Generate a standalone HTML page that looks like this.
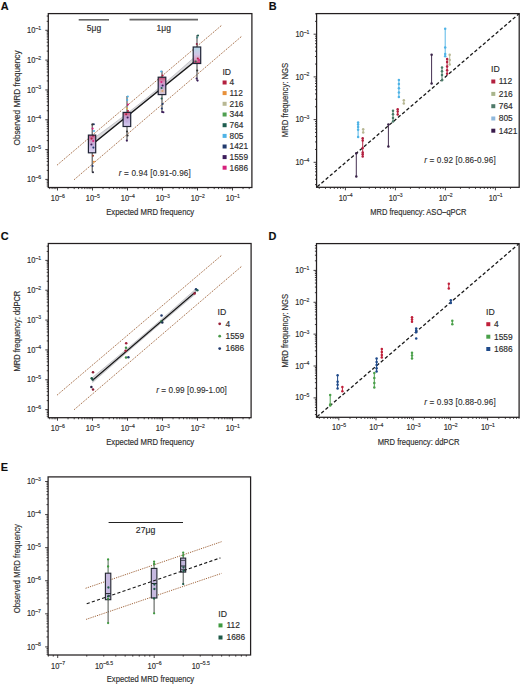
<!DOCTYPE html><html><head><meta charset="utf-8"><style>html,body{margin:0;padding:0;background:#fff;}svg{display:block;}text{font-family:"Liberation Sans",sans-serif;stroke:#2b2b2b;stroke-width:0.15px;}</style></head><body>
<svg width="520" height="685" viewBox="0 0 520 685">
<rect width="520" height="685" fill="#fff"/>
<text transform="translate(0.8 10.3) scale(0.95 1)" font-size="11.5" font-weight="bold" fill="#0d0d0d">A</text>
<line x1="57" y1="165.2" x2="222" y2="25" stroke="#9a5c30" stroke-width="0.95" stroke-dasharray="1.2 1.1" stroke-linecap="butt"/>
<line x1="74" y1="179.8" x2="242" y2="36" stroke="#9a5c30" stroke-width="0.95" stroke-dasharray="1.2 1.1" stroke-linecap="butt"/>
<line x1="78.7" y1="19.8" x2="109" y2="19.8" stroke="#666" stroke-width="1.6" stroke-linecap="butt"/>
<line x1="129.5" y1="19.6" x2="198" y2="19.6" stroke="#666" stroke-width="1.6" stroke-linecap="butt"/>
<text x="94" y="30.7" text-anchor="middle" font-size="8.5" fill="#2b2b2b">5μg</text>
<text x="163.8" y="30.7" text-anchor="middle" font-size="8.5" fill="#2b2b2b">1μg</text>
<polygon points="95.8,136.7 100.7,133.18 105.6,129.61 110.5,126 115.4,122.34 120.3,118.64 125.2,114.89 130.1,111.1 135,107.26 139.9,103.38 144.8,99.45 149.7,95.48 154.6,91.46 159.5,87.4 164.4,83.29 169.3,79.14 174.2,74.94 179.1,70.7 184,66.41 188.9,62.08 193.8,57.7 193.8,62.9 188.9,66.86 184,70.82 179.1,74.78 174.2,78.74 169.3,82.7 164.4,86.66 159.5,90.62 154.6,94.58 149.7,98.54 144.8,102.5 139.9,106.46 135,110.42 130.1,114.38 125.2,118.34 120.3,122.3 115.4,126.26 110.5,130.22 105.6,134.18 100.7,138.14 95.8,142.1" fill="#dadadd" stroke="#a5a5aa" stroke-width="0.5"/>
<line x1="95.8" y1="141.5" x2="193.8" y2="62.3" stroke="#151515" stroke-width="1.35" stroke-linecap="butt"/>
<defs>
<linearGradient id="gA5" x1="0" y1="0" x2="0" y2="1"><stop offset="0" stop-color="#c85a86"/><stop offset="0.35" stop-color="#c9a0c8"/><stop offset="0.6" stop-color="#c6b6e2"/><stop offset="1" stop-color="#ddd4f0"/></linearGradient>
<linearGradient id="gA4" x1="0" y1="0" x2="0" y2="1"><stop offset="0" stop-color="#cc5578"/><stop offset="0.3" stop-color="#c59ac8"/><stop offset="0.6" stop-color="#c4b2e2"/><stop offset="1" stop-color="#d6cdef"/></linearGradient>
<linearGradient id="gA3" x1="0" y1="0" x2="0" y2="1"><stop offset="0" stop-color="#c85070"/><stop offset="0.3" stop-color="#d496c2"/><stop offset="0.55" stop-color="#bca6d8"/><stop offset="0.8" stop-color="#d8c2c0"/><stop offset="1" stop-color="#cfc3e2"/></linearGradient>
<linearGradient id="gA2" x1="0" y1="0" x2="0" y2="1"><stop offset="0" stop-color="#b4dbe9"/><stop offset="0.45" stop-color="#d2c6e6"/><stop offset="0.75" stop-color="#d9a0c4"/><stop offset="0.92" stop-color="#cc4a78"/><stop offset="1" stop-color="#c05078"/></linearGradient>
</defs>
<line x1="92.2" y1="124" x2="92.2" y2="172.5" stroke="#3a3a3a" stroke-width="1.0"/>
<rect x="88.4" y="135.1" width="7.3" height="17.7" fill="url(#gA5)"/>
<line x1="127" y1="96" x2="127" y2="141.5" stroke="#3a3a3a" stroke-width="1.0"/>
<rect x="123.1" y="112.4" width="7.6" height="14.1" fill="url(#gA4)"/>
<line x1="162" y1="70.8" x2="162" y2="112.3" stroke="#3a3a3a" stroke-width="1.0"/>
<rect x="158.2" y="77.2" width="7.6" height="17.4" fill="url(#gA3)"/>
<line x1="197" y1="35" x2="197" y2="81" stroke="#3a3a3a" stroke-width="1.0"/>
<rect x="193.2" y="47" width="7.5" height="16.5" fill="url(#gA2)"/>
<circle cx="93.8" cy="124.2" r="1.05" fill="#223b6e"/>
<circle cx="92.4" cy="124.4" r="1.05" fill="#333"/>
<circle cx="92.6" cy="128.6" r="1.05" fill="#d6217c"/>
<circle cx="94" cy="131" r="1.05" fill="#4fb3e6"/>
<circle cx="93" cy="135.8" r="1.05" fill="#b3203f"/>
<circle cx="91.6" cy="138.6" r="1.05" fill="#b3203f"/>
<circle cx="93.2" cy="141" r="1.05" fill="#d6217c"/>
<circle cx="91.4" cy="144.5" r="1.05" fill="#3c1d5b"/>
<circle cx="93.4" cy="147.6" r="1.05" fill="#223b6e"/>
<circle cx="93" cy="155.7" r="1.05" fill="#9a3a2a"/>
<circle cx="93.9" cy="161.8" r="1.05" fill="#e8913a"/>
<circle cx="92.6" cy="166" r="1.05" fill="#223b6e"/>
<circle cx="93" cy="172.3" r="1.05" fill="#2a2a3a"/>
<circle cx="127.8" cy="96.5" r="1.05" fill="#4fb3e6"/>
<circle cx="127.2" cy="100" r="1.05" fill="#4fb3e6"/>
<circle cx="128" cy="104.5" r="1.05" fill="#d6217c"/>
<circle cx="127" cy="108.5" r="1.05" fill="#e0b050"/>
<circle cx="128" cy="111" r="1.05" fill="#b3203f"/>
<circle cx="126.2" cy="114.2" r="1.05" fill="#b3203f"/>
<circle cx="127.6" cy="117.5" r="1.05" fill="#3c1d5b"/>
<circle cx="126.8" cy="121.5" r="1.05" fill="#c0a8d8"/>
<circle cx="127" cy="131.5" r="1.05" fill="#333"/>
<circle cx="127.6" cy="135.5" r="1.05" fill="#333"/>
<circle cx="126.8" cy="140.5" r="1.05" fill="#3c1d5b"/>
<circle cx="161.2" cy="71.5" r="1.05" fill="#4fb3e6"/>
<circle cx="162.6" cy="75.5" r="1.05" fill="#b3203f"/>
<circle cx="161.4" cy="82" r="1.05" fill="#d6217c"/>
<circle cx="162.6" cy="85.5" r="1.05" fill="#3c1d5b"/>
<circle cx="161.6" cy="88" r="1.05" fill="#1f5e50"/>
<circle cx="162.4" cy="91" r="1.05" fill="#d8a070"/>
<circle cx="161.6" cy="98.5" r="1.05" fill="#1f5e50"/>
<circle cx="162.6" cy="104" r="1.05" fill="#223b6e"/>
<circle cx="161.8" cy="108.5" r="1.05" fill="#223b6e"/>
<circle cx="162.2" cy="112" r="1.05" fill="#3c1d5b"/>
<circle cx="163.4" cy="112.2" r="1.05" fill="#3c1d5b"/>
<circle cx="198" cy="35.5" r="1.05" fill="#1f5e50"/>
<circle cx="197.2" cy="37.5" r="1.05" fill="#4a8a8a"/>
<circle cx="196.8" cy="44" r="1.05" fill="#8a2040"/>
<circle cx="195.6" cy="61.5" r="1.05" fill="#2a6a4a"/>
<circle cx="197.8" cy="58.5" r="1.05" fill="#b3203f"/>
<circle cx="199" cy="60" r="1.05" fill="#d6217c"/>
<circle cx="197.2" cy="70.5" r="1.05" fill="#333"/>
<circle cx="196.6" cy="78.5" r="1.05" fill="#3c1d5b"/>
<circle cx="197.6" cy="80.6" r="1.05" fill="#3c1d5b"/>
<rect x="88.4" y="135.1" width="7.3" height="17.7" fill="none" stroke="#1f2436" stroke-width="1.2"/>
<rect x="123.1" y="112.4" width="7.6" height="14.1" fill="none" stroke="#1f2436" stroke-width="1.2"/>
<rect x="158.2" y="77.2" width="7.6" height="17.4" fill="none" stroke="#1f2436" stroke-width="1.2"/>
<rect x="193.2" y="47" width="7.5" height="16.5" fill="none" stroke="#1f2436" stroke-width="1.2"/>
<path d="M46.7 186.02H48.3M46.7 184.02H48.3M46.7 182.29H48.3M46.7 180.76H48.3M45.3 179.4H48.3M46.7 170.42H48.3M46.7 165.17H48.3M46.7 161.45H48.3M46.7 158.56H48.3M46.7 156.2H48.3M46.7 154.2H48.3M46.7 152.47H48.3M46.7 150.94H48.3M45.3 149.58H48.3M46.7 140.6H48.3M46.7 135.35H48.3M46.7 131.63H48.3M46.7 128.74H48.3M46.7 126.38H48.3M46.7 124.38H48.3M46.7 122.65H48.3M46.7 121.12H48.3M45.3 119.76H48.3M46.7 110.78H48.3M46.7 105.53H48.3M46.7 101.81H48.3M46.7 98.92H48.3M46.7 96.56H48.3M46.7 94.56H48.3M46.7 92.83H48.3M46.7 91.3H48.3M45.3 89.94H48.3M46.7 80.96H48.3M46.7 75.71H48.3M46.7 71.99H48.3M46.7 69.1H48.3M46.7 66.74H48.3M46.7 64.74H48.3M46.7 63.01H48.3M46.7 61.48H48.3M45.3 60.12H48.3M46.7 51.14H48.3M46.7 45.89H48.3M46.7 42.17H48.3M46.7 39.28H48.3M46.7 36.92H48.3M46.7 34.92H48.3M46.7 33.19H48.3M46.7 31.66H48.3M45.3 30.3H48.3M46.7 21.32H48.3M46.7 16.07H48.3M49.74 187.5V189.1M52.08 187.5V189.1M54.11 187.5V189.1M55.9 187.5V189.1M57.5 187.5V190.5M68.04 187.5V189.1M74.2 187.5V189.1M78.57 187.5V189.1M81.96 187.5V189.1M84.74 187.5V189.1M87.08 187.5V189.1M89.11 187.5V189.1M90.9 187.5V189.1M92.5 187.5V190.5M103.04 187.5V189.1M109.2 187.5V189.1M113.57 187.5V189.1M116.96 187.5V189.1M119.74 187.5V189.1M122.08 187.5V189.1M124.11 187.5V189.1M125.9 187.5V189.1M127.5 187.5V190.5M138.04 187.5V189.1M144.2 187.5V189.1M148.57 187.5V189.1M151.96 187.5V189.1M154.74 187.5V189.1M157.08 187.5V189.1M159.11 187.5V189.1M160.9 187.5V189.1M162.5 187.5V190.5M173.04 187.5V189.1M179.2 187.5V189.1M183.57 187.5V189.1M186.96 187.5V189.1M189.74 187.5V189.1M192.08 187.5V189.1M194.11 187.5V189.1M195.9 187.5V189.1M197.5 187.5V190.5M208.04 187.5V189.1M214.2 187.5V189.1M218.57 187.5V189.1M221.96 187.5V189.1M224.74 187.5V189.1M227.08 187.5V189.1M229.11 187.5V189.1M230.9 187.5V189.1M232.5 187.5V190.5M243.04 187.5V189.1M249.2 187.5V189.1" stroke="#231f20" stroke-width="0.85" fill="none"/>
<text transform="translate(41.1 32.9) scale(0.88 1)" text-anchor="end" font-size="8.5" fill="#2b2b2b">10<tspan dy="-3.2" font-size="5.8">–1</tspan></text>
<text transform="translate(41.1 62.72) scale(0.88 1)" text-anchor="end" font-size="8.5" fill="#2b2b2b">10<tspan dy="-3.2" font-size="5.8">–2</tspan></text>
<text transform="translate(41.1 92.54) scale(0.88 1)" text-anchor="end" font-size="8.5" fill="#2b2b2b">10<tspan dy="-3.2" font-size="5.8">–3</tspan></text>
<text transform="translate(41.1 122.36) scale(0.88 1)" text-anchor="end" font-size="8.5" fill="#2b2b2b">10<tspan dy="-3.2" font-size="5.8">–4</tspan></text>
<text transform="translate(41.1 152.18) scale(0.88 1)" text-anchor="end" font-size="8.5" fill="#2b2b2b">10<tspan dy="-3.2" font-size="5.8">–5</tspan></text>
<text transform="translate(41.1 182) scale(0.88 1)" text-anchor="end" font-size="8.5" fill="#2b2b2b">10<tspan dy="-3.2" font-size="5.8">–6</tspan></text>
<text transform="translate(57.8 200.7) scale(0.88 1)" text-anchor="middle" font-size="8.5" fill="#2b2b2b">10<tspan dy="-3.2" font-size="5.8">–6</tspan></text>
<text transform="translate(92.8 200.7) scale(0.88 1)" text-anchor="middle" font-size="8.5" fill="#2b2b2b">10<tspan dy="-3.2" font-size="5.8">–5</tspan></text>
<text transform="translate(127.8 200.7) scale(0.88 1)" text-anchor="middle" font-size="8.5" fill="#2b2b2b">10<tspan dy="-3.2" font-size="5.8">–4</tspan></text>
<text transform="translate(162.8 200.7) scale(0.88 1)" text-anchor="middle" font-size="8.5" fill="#2b2b2b">10<tspan dy="-3.2" font-size="5.8">–3</tspan></text>
<text transform="translate(197.8 200.7) scale(0.88 1)" text-anchor="middle" font-size="8.5" fill="#2b2b2b">10<tspan dy="-3.2" font-size="5.8">–2</tspan></text>
<text transform="translate(232.8 200.7) scale(0.88 1)" text-anchor="middle" font-size="8.5" fill="#2b2b2b">10<tspan dy="-3.2" font-size="5.8">–1</tspan></text>
<rect x="48.3" y="13.6" width="203.6" height="173.9" fill="none" stroke="#231f20" stroke-width="1.25"/>
<text transform="translate(19.8 98) rotate(-90)" x="0" y="0" text-anchor="middle" font-size="9" fill="#2b2b2b" textLength="95" lengthAdjust="spacingAndGlyphs">Observed MRD frequency</text>
<text x="150.2" y="214.9" text-anchor="middle" font-size="9.2" fill="#2b2b2b" textLength="88" lengthAdjust="spacingAndGlyphs">Expected MRD frequency</text>
<text x="222.4" y="75" font-size="8.600000000000001" fill="#2b2b2b">ID</text>
<rect x="222.6" y="80.5" width="4" height="4" fill="#b3203f"/>
<text x="229.6" y="85.35" font-size="8.3" fill="#2b2b2b">4</text>
<rect x="222.6" y="91.1" width="4" height="4" fill="#e8913a"/>
<text x="229.6" y="95.95" font-size="8.3" fill="#2b2b2b">112</text>
<rect x="222.6" y="101.8" width="4" height="4" fill="#b8b894"/>
<text x="229.6" y="106.65" font-size="8.3" fill="#2b2b2b">216</text>
<rect x="222.6" y="112.5" width="4" height="4" fill="#4fa050"/>
<text x="229.6" y="117.35" font-size="8.3" fill="#2b2b2b">344</text>
<rect x="222.6" y="123.2" width="4" height="4" fill="#1f5e50"/>
<text x="229.6" y="128.05" font-size="8.3" fill="#2b2b2b">764</text>
<rect x="222.6" y="133.9" width="4" height="4" fill="#4fb3e6"/>
<text x="229.6" y="138.75" font-size="8.3" fill="#2b2b2b">805</text>
<rect x="222.6" y="144.5" width="4" height="4" fill="#223b6e"/>
<text x="229.6" y="149.35" font-size="8.3" fill="#2b2b2b">1421</text>
<rect x="222.6" y="155.1" width="4" height="4" fill="#3c1d5b"/>
<text x="229.6" y="159.95" font-size="8.3" fill="#2b2b2b">1559</text>
<rect x="222.6" y="165.7" width="4" height="4" fill="#d6217c"/>
<text x="229.6" y="170.55" font-size="8.3" fill="#2b2b2b">1686</text>
<text x="118.8" y="176" font-size="8.2" fill="#2b2b2b" style="stroke-width:0.1px" textLength="72" lengthAdjust="spacing"><tspan font-style="italic">r</tspan> = 0.94 [0.91-0.96]</text>
<text transform="translate(268.8 9.9) scale(0.95 1)" font-size="11.5" font-weight="bold" fill="#0d0d0d">B</text>
<line x1="317.2" y1="186.8" x2="519.2" y2="13.6" stroke="#1a1a1a" stroke-width="1.3" stroke-dasharray="3.4 2.2" stroke-linecap="butt"/>
<line x1="356.3" y1="153.3" x2="356.3" y2="176.4" stroke="#3a2448" stroke-width="0.95"/>
<circle cx="356.3" cy="153.3" r="1.25" fill="#3a2448"/>
<circle cx="356.3" cy="176.4" r="1.25" fill="#3a2448"/>
<line x1="358.1" y1="122.4" x2="358.1" y2="137" stroke="#4fb3e6" stroke-width="0.95"/>
<circle cx="358.1" cy="122.4" r="1.25" fill="#4fb3e6"/>
<circle cx="358.1" cy="124.6" r="1.25" fill="#4fb3e6"/>
<circle cx="358.1" cy="127" r="1.25" fill="#4fb3e6"/>
<circle cx="358.1" cy="129.7" r="1.25" fill="#4fb3e6"/>
<circle cx="358.1" cy="137" r="1.25" fill="#4fb3e6"/>
<line x1="363.2" y1="129.2" x2="363.2" y2="132.6" stroke="#b8b894" stroke-width="0.95"/>
<circle cx="363.2" cy="129.2" r="1.25" fill="#b8b894"/>
<circle cx="363.2" cy="132.6" r="1.25" fill="#b8b894"/>
<line x1="362.7" y1="138.3" x2="362.7" y2="156.5" stroke="#b3203f" stroke-width="0.95"/>
<circle cx="362.7" cy="138.3" r="1.25" fill="#b3203f"/>
<circle cx="362.7" cy="140.4" r="1.25" fill="#b3203f"/>
<circle cx="362.7" cy="148" r="1.25" fill="#b3203f"/>
<circle cx="362.7" cy="152.5" r="1.25" fill="#b3203f"/>
<circle cx="362.7" cy="154.3" r="1.25" fill="#b3203f"/>
<circle cx="362.7" cy="156.5" r="1.25" fill="#b3203f"/>
<line x1="388.4" y1="124.4" x2="388.4" y2="146.5" stroke="#3a2448" stroke-width="0.95"/>
<circle cx="388.4" cy="124.4" r="1.25" fill="#3a2448"/>
<circle cx="388.4" cy="146.5" r="1.25" fill="#3a2448"/>
<line x1="393" y1="110.8" x2="393" y2="121.5" stroke="#4a7a68" stroke-width="0.95"/>
<circle cx="393" cy="110.8" r="1.25" fill="#4a7a68"/>
<circle cx="393" cy="114.2" r="1.25" fill="#4a7a68"/>
<circle cx="393" cy="118" r="1.25" fill="#4a7a68"/>
<circle cx="393" cy="121.5" r="1.25" fill="#4a7a68"/>
<line x1="397.7" y1="109.2" x2="397.7" y2="114.6" stroke="#b3203f" stroke-width="0.95"/>
<circle cx="397.7" cy="109.2" r="1.25" fill="#b3203f"/>
<circle cx="397.7" cy="111.6" r="1.25" fill="#b3203f"/>
<circle cx="397.7" cy="114.6" r="1.25" fill="#b3203f"/>
<line x1="398.9" y1="80" x2="398.9" y2="96.9" stroke="#4fb3e6" stroke-width="0.95"/>
<circle cx="398.9" cy="80" r="1.25" fill="#4fb3e6"/>
<circle cx="398.9" cy="84" r="1.25" fill="#4fb3e6"/>
<circle cx="398.9" cy="88.2" r="1.25" fill="#4fb3e6"/>
<circle cx="398.9" cy="92.4" r="1.25" fill="#4fb3e6"/>
<circle cx="398.9" cy="96.9" r="1.25" fill="#4fb3e6"/>
<line x1="403.8" y1="100.3" x2="403.8" y2="103.4" stroke="#b8b894" stroke-width="0.95"/>
<circle cx="403.8" cy="100.3" r="1.25" fill="#b8b894"/>
<circle cx="403.8" cy="103.4" r="1.25" fill="#b8b894"/>
<line x1="431.6" y1="54.8" x2="431.6" y2="83.6" stroke="#3a2448" stroke-width="0.95"/>
<circle cx="431.6" cy="54.8" r="1.25" fill="#3a2448"/>
<circle cx="431.6" cy="83.6" r="1.25" fill="#3a2448"/>
<line x1="442" y1="67.5" x2="442" y2="80.3" stroke="#4a7a68" stroke-width="0.95"/>
<circle cx="442" cy="67.5" r="1.25" fill="#4a7a68"/>
<circle cx="442" cy="71.2" r="1.25" fill="#4a7a68"/>
<circle cx="442" cy="75" r="1.25" fill="#4a7a68"/>
<circle cx="442" cy="80.3" r="1.25" fill="#4a7a68"/>
<line x1="445.2" y1="28.7" x2="445.2" y2="56.3" stroke="#4fb3e6" stroke-width="0.95"/>
<circle cx="445.2" cy="28.7" r="1.25" fill="#4fb3e6"/>
<circle cx="445.2" cy="47.6" r="1.25" fill="#4fb3e6"/>
<circle cx="445.2" cy="54" r="1.25" fill="#4fb3e6"/>
<circle cx="445.2" cy="56.3" r="1.25" fill="#4fb3e6"/>
<line x1="449.7" y1="54.8" x2="449.7" y2="64.5" stroke="#b8b894" stroke-width="0.95"/>
<circle cx="449.7" cy="54.8" r="1.25" fill="#b8b894"/>
<circle cx="449.7" cy="60" r="1.25" fill="#b8b894"/>
<circle cx="449.7" cy="64.5" r="1.25" fill="#b8b894"/>
<line x1="447.1" y1="58.9" x2="447.1" y2="73.7" stroke="#b3203f" stroke-width="0.95"/>
<circle cx="447.1" cy="58.9" r="1.25" fill="#b3203f"/>
<circle cx="447.1" cy="62" r="1.25" fill="#b3203f"/>
<circle cx="447.1" cy="66.5" r="1.25" fill="#b3203f"/>
<circle cx="447.1" cy="70.2" r="1.25" fill="#b3203f"/>
<circle cx="447.1" cy="73.7" r="1.25" fill="#b3203f"/>
<path d="M315 184.63H316.6M315 179.29H316.6M315 175.15H316.6M315 171.77H316.6M315 168.91H316.6M315 166.44H316.6M315 164.25H316.6M313.6 162.3H316.6M315 149.45H316.6M315 141.93H316.6M315 136.59H316.6M315 132.45H316.6M315 129.07H316.6M315 126.21H316.6M315 123.74H316.6M315 121.55H316.6M313.6 119.6H316.6M315 106.75H316.6M315 99.23H316.6M315 93.89H316.6M315 89.75H316.6M315 86.37H316.6M315 83.51H316.6M315 81.04H316.6M315 78.85H316.6M313.6 76.9H316.6M315 64.05H316.6M315 56.53H316.6M315 51.19H316.6M315 47.05H316.6M315 43.67H316.6M315 40.81H316.6M315 38.34H316.6M315 36.15H316.6M313.6 34.2H316.6M315 21.35H316.6M315 13.83H316.6M319.26 187.3V188.9M325.5 187.3V188.9M330.35 187.3V188.9M334.31 187.3V188.9M337.65 187.3V188.9M340.55 187.3V188.9M343.11 187.3V188.9M345.4 187.3V190.3M360.45 187.3V188.9M369.26 187.3V188.9M375.5 187.3V188.9M380.35 187.3V188.9M384.31 187.3V188.9M387.65 187.3V188.9M390.55 187.3V188.9M393.11 187.3V188.9M395.4 187.3V190.3M410.45 187.3V188.9M419.26 187.3V188.9M425.5 187.3V188.9M430.35 187.3V188.9M434.31 187.3V188.9M437.65 187.3V188.9M440.55 187.3V188.9M443.11 187.3V188.9M445.4 187.3V190.3M460.45 187.3V188.9M469.26 187.3V188.9M475.5 187.3V188.9M480.35 187.3V188.9M484.31 187.3V188.9M487.65 187.3V188.9M490.55 187.3V188.9M493.11 187.3V188.9M495.4 187.3V190.3M510.45 187.3V188.9" stroke="#231f20" stroke-width="0.85" fill="none"/>
<text transform="translate(309.4 36.8) scale(0.88 1)" text-anchor="end" font-size="8.5" fill="#2b2b2b">10<tspan dy="-3.2" font-size="5.8">–1</tspan></text>
<text transform="translate(309.4 79.5) scale(0.88 1)" text-anchor="end" font-size="8.5" fill="#2b2b2b">10<tspan dy="-3.2" font-size="5.8">–2</tspan></text>
<text transform="translate(309.4 122.2) scale(0.88 1)" text-anchor="end" font-size="8.5" fill="#2b2b2b">10<tspan dy="-3.2" font-size="5.8">–3</tspan></text>
<text transform="translate(309.4 164.9) scale(0.88 1)" text-anchor="end" font-size="8.5" fill="#2b2b2b">10<tspan dy="-3.2" font-size="5.8">–4</tspan></text>
<text transform="translate(345.7 200.6) scale(0.88 1)" text-anchor="middle" font-size="8.5" fill="#2b2b2b">10<tspan dy="-3.2" font-size="5.8">–4</tspan></text>
<text transform="translate(395.7 200.6) scale(0.88 1)" text-anchor="middle" font-size="8.5" fill="#2b2b2b">10<tspan dy="-3.2" font-size="5.8">–3</tspan></text>
<text transform="translate(445.7 200.6) scale(0.88 1)" text-anchor="middle" font-size="8.5" fill="#2b2b2b">10<tspan dy="-3.2" font-size="5.8">–2</tspan></text>
<text transform="translate(495.7 200.6) scale(0.88 1)" text-anchor="middle" font-size="8.5" fill="#2b2b2b">10<tspan dy="-3.2" font-size="5.8">–1</tspan></text>
<rect x="316.6" y="13.6" width="202.6" height="173.7" fill="none" stroke="#231f20" stroke-width="1.25"/>
<text transform="translate(288 100) rotate(-90)" x="0" y="0" text-anchor="middle" font-size="8.6" fill="#2b2b2b" textLength="74.4" lengthAdjust="spacingAndGlyphs">MRD frequency: NGS</text>
<text x="418.4" y="214.7" text-anchor="middle" font-size="9.2" fill="#2b2b2b" textLength="96.2" lengthAdjust="spacingAndGlyphs">MRD frequency: ASO–qPCR</text>
<text x="491.1" y="72.4" font-size="8.700000000000001" fill="#2b2b2b">ID</text>
<rect x="491.3" y="79.5" width="4" height="4" fill="#b3203f"/>
<text x="498.8" y="84.35" font-size="8.4" fill="#2b2b2b">112</text>
<rect x="491.3" y="91.9" width="4" height="4" fill="#a9b58c"/>
<text x="498.8" y="96.75" font-size="8.4" fill="#2b2b2b">216</text>
<rect x="491.3" y="104.2" width="4" height="4" fill="#4f7a6a"/>
<text x="498.8" y="109.05" font-size="8.4" fill="#2b2b2b">764</text>
<rect x="491.3" y="116.5" width="4" height="4" fill="#8fb8dc"/>
<text x="498.8" y="121.35" font-size="8.4" fill="#2b2b2b">805</text>
<rect x="491.3" y="128.7" width="4" height="4" fill="#3a1b4c"/>
<text x="498.8" y="133.55" font-size="8.4" fill="#2b2b2b">1421</text>
<text x="424.3" y="163.4" font-size="8.2" fill="#2b2b2b" style="stroke-width:0.1px" textLength="71.4" lengthAdjust="spacing"><tspan font-style="italic">r</tspan> = 0.92 [0.86-0.96]</text>
<text transform="translate(0.8 239.9) scale(0.95 1)" font-size="11.5" font-weight="bold" fill="#0d0d0d">C</text>
<line x1="57" y1="395.2" x2="222" y2="255" stroke="#9a5c30" stroke-width="0.95" stroke-dasharray="1.2 1.1" stroke-linecap="butt"/>
<line x1="74" y1="409.8" x2="242" y2="266" stroke="#9a5c30" stroke-width="0.95" stroke-dasharray="1.2 1.1" stroke-linecap="butt"/>
<polygon points="92.6,377.3 97.74,373.08 102.89,368.85 108.03,364.6 113.18,360.32 118.32,356.03 123.47,351.71 128.62,347.38 133.76,343.02 138.91,338.64 144.05,334.25 149.19,329.84 154.34,325.4 159.49,320.94 164.63,316.47 169.78,311.97 174.92,307.46 180.06,302.93 185.21,298.37 190.35,293.8 195.5,289.2 195.5,294.08 190.35,298.39 185.21,302.71 180.06,307.04 174.92,311.38 169.78,315.73 164.63,320.1 159.49,324.48 154.34,328.87 149.19,333.27 144.05,337.69 138.91,342.12 133.76,346.56 128.62,351.01 123.47,355.47 118.32,359.94 113.18,364.43 108.03,368.93 102.89,373.44 97.74,377.96 92.6,382.5" fill="#dadadd" stroke="#a5a5aa" stroke-width="0.5"/>
<line x1="92.6" y1="380.3" x2="195.5" y2="292" stroke="#151515" stroke-width="1.15" stroke-linecap="butt"/>
<circle cx="93" cy="372.2" r="1.25" fill="#8a1a33"/>
<circle cx="91.7" cy="378.3" r="1.25" fill="#1d5a44"/>
<circle cx="92.6" cy="379.4" r="1.25" fill="#1d4a44"/>
<circle cx="91.4" cy="386.9" r="1.25" fill="#2a2346"/>
<circle cx="93" cy="389.6" r="1.25" fill="#8a1a33"/>
<circle cx="126.2" cy="343.3" r="1.25" fill="#a0203a"/>
<circle cx="126" cy="347.8" r="1.25" fill="#3f8f4a"/>
<circle cx="125.6" cy="350.8" r="1.25" fill="#a0203a"/>
<circle cx="126" cy="357.4" r="1.25" fill="#3f8f4a"/>
<circle cx="128.4" cy="357.2" r="1.25" fill="#223b6e"/>
<circle cx="161.5" cy="315.5" r="1.25" fill="#223b6e"/>
<circle cx="161.3" cy="321.6" r="1.25" fill="#2f7a45"/>
<circle cx="162.3" cy="322.6" r="1.25" fill="#1d3050"/>
<circle cx="196" cy="289.3" r="1.25" fill="#223b6e"/>
<circle cx="197.3" cy="290.3" r="1.25" fill="#1f5e50"/>
<circle cx="194.6" cy="293.6" r="1.25" fill="#a0203a"/>
<path d="M46.7 416.22H48.3M46.7 414.22H48.3M46.7 412.49H48.3M46.7 410.97H48.3M45.3 409.6H48.3M46.7 400.62H48.3M46.7 395.36H48.3M46.7 391.63H48.3M46.7 388.74H48.3M46.7 386.38H48.3M46.7 384.38H48.3M46.7 382.65H48.3M46.7 381.13H48.3M45.3 379.76H48.3M46.7 370.78H48.3M46.7 365.52H48.3M46.7 361.79H48.3M46.7 358.9H48.3M46.7 356.54H48.3M46.7 354.54H48.3M46.7 352.81H48.3M46.7 351.29H48.3M45.3 349.92H48.3M46.7 340.94H48.3M46.7 335.68H48.3M46.7 331.95H48.3M46.7 329.06H48.3M46.7 326.7H48.3M46.7 324.7H48.3M46.7 322.97H48.3M46.7 321.45H48.3M45.3 320.08H48.3M46.7 311.1H48.3M46.7 305.84H48.3M46.7 302.11H48.3M46.7 299.22H48.3M46.7 296.86H48.3M46.7 294.86H48.3M46.7 293.13H48.3M46.7 291.61H48.3M45.3 290.24H48.3M46.7 281.26H48.3M46.7 276H48.3M46.7 272.27H48.3M46.7 269.38H48.3M46.7 267.02H48.3M46.7 265.02H48.3M46.7 263.29H48.3M46.7 261.77H48.3M45.3 260.4H48.3M46.7 251.42H48.3M46.7 246.16H48.3M49.74 417.7V419.3M52.08 417.7V419.3M54.11 417.7V419.3M55.9 417.7V419.3M57.5 417.7V420.7M68.04 417.7V419.3M74.2 417.7V419.3M78.57 417.7V419.3M81.96 417.7V419.3M84.74 417.7V419.3M87.08 417.7V419.3M89.11 417.7V419.3M90.9 417.7V419.3M92.5 417.7V420.7M103.04 417.7V419.3M109.2 417.7V419.3M113.57 417.7V419.3M116.96 417.7V419.3M119.74 417.7V419.3M122.08 417.7V419.3M124.11 417.7V419.3M125.9 417.7V419.3M127.5 417.7V420.7M138.04 417.7V419.3M144.2 417.7V419.3M148.57 417.7V419.3M151.96 417.7V419.3M154.74 417.7V419.3M157.08 417.7V419.3M159.11 417.7V419.3M160.9 417.7V419.3M162.5 417.7V420.7M173.04 417.7V419.3M179.2 417.7V419.3M183.57 417.7V419.3M186.96 417.7V419.3M189.74 417.7V419.3M192.08 417.7V419.3M194.11 417.7V419.3M195.9 417.7V419.3M197.5 417.7V420.7M208.04 417.7V419.3M214.2 417.7V419.3M218.57 417.7V419.3M221.96 417.7V419.3M224.74 417.7V419.3M227.08 417.7V419.3M229.11 417.7V419.3M230.9 417.7V419.3M232.5 417.7V420.7M243.04 417.7V419.3M249.2 417.7V419.3" stroke="#231f20" stroke-width="0.85" fill="none"/>
<text transform="translate(41.1 263) scale(0.88 1)" text-anchor="end" font-size="8.5" fill="#2b2b2b">10<tspan dy="-3.2" font-size="5.8">–1</tspan></text>
<text transform="translate(41.1 292.84) scale(0.88 1)" text-anchor="end" font-size="8.5" fill="#2b2b2b">10<tspan dy="-3.2" font-size="5.8">–2</tspan></text>
<text transform="translate(41.1 322.68) scale(0.88 1)" text-anchor="end" font-size="8.5" fill="#2b2b2b">10<tspan dy="-3.2" font-size="5.8">–3</tspan></text>
<text transform="translate(41.1 352.52) scale(0.88 1)" text-anchor="end" font-size="8.5" fill="#2b2b2b">10<tspan dy="-3.2" font-size="5.8">–4</tspan></text>
<text transform="translate(41.1 382.36) scale(0.88 1)" text-anchor="end" font-size="8.5" fill="#2b2b2b">10<tspan dy="-3.2" font-size="5.8">–5</tspan></text>
<text transform="translate(41.1 412.2) scale(0.88 1)" text-anchor="end" font-size="8.5" fill="#2b2b2b">10<tspan dy="-3.2" font-size="5.8">–6</tspan></text>
<text transform="translate(57.8 430.9) scale(0.88 1)" text-anchor="middle" font-size="8.5" fill="#2b2b2b">10<tspan dy="-3.2" font-size="5.8">–6</tspan></text>
<text transform="translate(92.8 430.9) scale(0.88 1)" text-anchor="middle" font-size="8.5" fill="#2b2b2b">10<tspan dy="-3.2" font-size="5.8">–5</tspan></text>
<text transform="translate(127.8 430.9) scale(0.88 1)" text-anchor="middle" font-size="8.5" fill="#2b2b2b">10<tspan dy="-3.2" font-size="5.8">–4</tspan></text>
<text transform="translate(162.8 430.9) scale(0.88 1)" text-anchor="middle" font-size="8.5" fill="#2b2b2b">10<tspan dy="-3.2" font-size="5.8">–3</tspan></text>
<text transform="translate(197.8 430.9) scale(0.88 1)" text-anchor="middle" font-size="8.5" fill="#2b2b2b">10<tspan dy="-3.2" font-size="5.8">–2</tspan></text>
<text transform="translate(232.8 430.9) scale(0.88 1)" text-anchor="middle" font-size="8.5" fill="#2b2b2b">10<tspan dy="-3.2" font-size="5.8">–1</tspan></text>
<rect x="48.3" y="243.5" width="202.8" height="174.2" fill="none" stroke="#231f20" stroke-width="1.25"/>
<text transform="translate(19.8 331.1) rotate(-90)" x="0" y="0" text-anchor="middle" font-size="9" fill="#2b2b2b" textLength="80.8" lengthAdjust="spacingAndGlyphs">MRD frequency: ddPCR</text>
<text x="150.2" y="444.9" text-anchor="middle" font-size="9.2" fill="#2b2b2b" textLength="88" lengthAdjust="spacingAndGlyphs">Expected MRD frequency</text>
<text x="217.5" y="314.7" font-size="8.700000000000001" fill="#2b2b2b">ID</text>
<circle cx="219.7" cy="323.8" r="1.4" fill="#9a1f37"/>
<text x="225.5" y="326.65" font-size="8.4" fill="#2b2b2b">4</text>
<circle cx="219.7" cy="336.2" r="1.4" fill="#4a9a4a"/>
<text x="225.5" y="339.05" font-size="8.4" fill="#2b2b2b">1559</text>
<circle cx="219.7" cy="348.6" r="1.4" fill="#223b6e"/>
<text x="225.5" y="351.45" font-size="8.4" fill="#2b2b2b">1686</text>
<text x="156.2" y="393.2" font-size="8.2" fill="#2b2b2b" style="stroke-width:0.1px" textLength="70.7" lengthAdjust="spacing"><tspan font-style="italic">r</tspan> = 0.99 [0.99-1.00]</text>
<text transform="translate(268.6 239.9) scale(0.95 1)" font-size="11.5" font-weight="bold" fill="#0d0d0d">D</text>
<line x1="317" y1="416.8" x2="519.1" y2="243.6" stroke="#1a1a1a" stroke-width="1.3" stroke-dasharray="3.4 2.2" stroke-linecap="butt"/>
<line x1="330.2" y1="394.9" x2="330.2" y2="405.6" stroke="#4aa04a" stroke-width="1.0"/>
<circle cx="330.2" cy="394.9" r="1.25" fill="#4aa04a"/>
<circle cx="330.2" cy="404.5" r="1.25" fill="#4aa04a"/>
<circle cx="330.2" cy="405.6" r="1.25" fill="#4aa04a"/>
<line x1="337.6" y1="375.2" x2="337.6" y2="388.4" stroke="#1f4a8a" stroke-width="1.0"/>
<circle cx="337.6" cy="375.2" r="1.25" fill="#1f4a8a"/>
<circle cx="337.6" cy="381.8" r="1.25" fill="#1f4a8a"/>
<circle cx="337.6" cy="384.7" r="1.25" fill="#1f4a8a"/>
<circle cx="337.6" cy="388.4" r="1.25" fill="#1f4a8a"/>
<line x1="342.4" y1="387" x2="342.4" y2="391.2" stroke="#c0203a" stroke-width="1.0"/>
<circle cx="342.4" cy="387" r="1.25" fill="#c0203a"/>
<circle cx="342.4" cy="391.2" r="1.25" fill="#c0203a"/>
<line x1="374.3" y1="373" x2="374.3" y2="387.4" stroke="#4aa04a" stroke-width="1.0"/>
<circle cx="374.3" cy="373" r="1.25" fill="#4aa04a"/>
<circle cx="374.3" cy="378" r="1.25" fill="#4aa04a"/>
<circle cx="374.3" cy="383" r="1.25" fill="#4aa04a"/>
<circle cx="374.3" cy="387.4" r="1.25" fill="#4aa04a"/>
<line x1="376.6" y1="358.5" x2="376.6" y2="371.5" stroke="#1f4a8a" stroke-width="1.0"/>
<circle cx="376.6" cy="358.5" r="1.25" fill="#1f4a8a"/>
<circle cx="376.6" cy="362" r="1.25" fill="#1f4a8a"/>
<circle cx="376.6" cy="365" r="1.25" fill="#1f4a8a"/>
<circle cx="376.6" cy="368.2" r="1.25" fill="#1f4a8a"/>
<circle cx="376.6" cy="371.5" r="1.25" fill="#1f4a8a"/>
<line x1="381.8" y1="348.9" x2="381.8" y2="357.6" stroke="#c0203a" stroke-width="1.0"/>
<circle cx="381.8" cy="348.9" r="1.25" fill="#c0203a"/>
<circle cx="381.8" cy="352" r="1.25" fill="#c0203a"/>
<circle cx="381.8" cy="355" r="1.25" fill="#c0203a"/>
<circle cx="381.8" cy="357.6" r="1.25" fill="#c0203a"/>
<line x1="412" y1="317.2" x2="412" y2="321.8" stroke="#c0203a" stroke-width="1.0"/>
<circle cx="412" cy="317.2" r="1.25" fill="#c0203a"/>
<circle cx="412" cy="319.5" r="1.25" fill="#c0203a"/>
<circle cx="412" cy="321.8" r="1.25" fill="#c0203a"/>
<line x1="416.2" y1="328.5" x2="416.2" y2="332.3" stroke="#1f4a8a" stroke-width="1.0"/>
<circle cx="416.2" cy="328.5" r="1.25" fill="#1f4a8a"/>
<circle cx="416.2" cy="330.4" r="1.25" fill="#1f4a8a"/>
<circle cx="416.2" cy="332.3" r="1.25" fill="#1f4a8a"/>
<circle cx="416.2" cy="338.5" r="1.25" fill="#1f4a8a"/>
<line x1="412" y1="352.8" x2="412" y2="358.5" stroke="#4aa04a" stroke-width="1.0"/>
<circle cx="412" cy="352.8" r="1.25" fill="#4aa04a"/>
<circle cx="412" cy="355.6" r="1.25" fill="#4aa04a"/>
<circle cx="412" cy="358.5" r="1.25" fill="#4aa04a"/>
<line x1="448.8" y1="283.8" x2="448.8" y2="288.5" stroke="#c0203a" stroke-width="1.0"/>
<circle cx="448.8" cy="283.8" r="1.25" fill="#c0203a"/>
<circle cx="448.8" cy="288.5" r="1.25" fill="#c0203a"/>
<line x1="450.8" y1="300.3" x2="450.8" y2="303" stroke="#1f4a8a" stroke-width="1.0"/>
<circle cx="450.8" cy="300.3" r="1.25" fill="#1f4a8a"/>
<circle cx="450.8" cy="303" r="1.25" fill="#1f4a8a"/>
<line x1="452.3" y1="320.8" x2="452.3" y2="324.3" stroke="#4aa04a" stroke-width="1.0"/>
<circle cx="452.3" cy="320.8" r="1.25" fill="#4aa04a"/>
<circle cx="452.3" cy="324.3" r="1.25" fill="#4aa04a"/>
<path d="M314.9 414.54H316.5M314.9 410.56H316.5M314.9 407.47H316.5M314.9 404.95H316.5M314.9 402.82H316.5M314.9 400.97H316.5M314.9 399.34H316.5M313.5 397.88H316.5M314.9 388.29H316.5M314.9 382.67H316.5M314.9 378.69H316.5M314.9 375.6H316.5M314.9 373.08H316.5M314.9 370.95H316.5M314.9 369.1H316.5M314.9 367.47H316.5M313.5 366.01H316.5M314.9 356.42H316.5M314.9 350.8H316.5M314.9 346.82H316.5M314.9 343.73H316.5M314.9 341.21H316.5M314.9 339.08H316.5M314.9 337.23H316.5M314.9 335.6H316.5M313.5 334.14H316.5M314.9 324.55H316.5M314.9 318.93H316.5M314.9 314.95H316.5M314.9 311.86H316.5M314.9 309.34H316.5M314.9 307.21H316.5M314.9 305.36H316.5M314.9 303.73H316.5M313.5 302.27H316.5M314.9 292.68H316.5M314.9 287.06H316.5M314.9 283.08H316.5M314.9 279.99H316.5M314.9 277.47H316.5M314.9 275.34H316.5M314.9 273.49H316.5M314.9 271.86H316.5M313.5 270.4H316.5M314.9 260.81H316.5M314.9 255.19H316.5M314.9 251.21H316.5M314.9 248.12H316.5M314.9 245.6H316.5M319.35 417.3V418.9M324 417.3V418.9M327.6 417.3V418.9M330.55 417.3V418.9M333.04 417.3V418.9M335.19 417.3V418.9M337.1 417.3V418.9M338.8 417.3V420.3M350 417.3V418.9M356.55 417.3V418.9M361.2 417.3V418.9M364.8 417.3V418.9M367.75 417.3V418.9M370.24 417.3V418.9M372.39 417.3V418.9M374.3 417.3V418.9M376 417.3V420.3M387.2 417.3V418.9M393.75 417.3V418.9M398.4 417.3V418.9M402 417.3V418.9M404.95 417.3V418.9M407.44 417.3V418.9M409.59 417.3V418.9M411.5 417.3V418.9M413.2 417.3V420.3M424.4 417.3V418.9M430.95 417.3V418.9M435.6 417.3V418.9M439.2 417.3V418.9M442.15 417.3V418.9M444.64 417.3V418.9M446.79 417.3V418.9M448.7 417.3V418.9M450.4 417.3V420.3M461.6 417.3V418.9M468.15 417.3V418.9M472.8 417.3V418.9M476.4 417.3V418.9M479.35 417.3V418.9M481.84 417.3V418.9M483.99 417.3V418.9M485.9 417.3V418.9M487.6 417.3V420.3M498.8 417.3V418.9M505.35 417.3V418.9M510 417.3V418.9M513.6 417.3V418.9M516.55 417.3V418.9M519.04 417.3V418.9" stroke="#231f20" stroke-width="0.85" fill="none"/>
<text transform="translate(309.3 273) scale(0.88 1)" text-anchor="end" font-size="8.5" fill="#2b2b2b">10<tspan dy="-3.2" font-size="5.8">–1</tspan></text>
<text transform="translate(309.3 304.87) scale(0.88 1)" text-anchor="end" font-size="8.5" fill="#2b2b2b">10<tspan dy="-3.2" font-size="5.8">–2</tspan></text>
<text transform="translate(309.3 336.74) scale(0.88 1)" text-anchor="end" font-size="8.5" fill="#2b2b2b">10<tspan dy="-3.2" font-size="5.8">–3</tspan></text>
<text transform="translate(309.3 368.61) scale(0.88 1)" text-anchor="end" font-size="8.5" fill="#2b2b2b">10<tspan dy="-3.2" font-size="5.8">–4</tspan></text>
<text transform="translate(309.3 400.48) scale(0.88 1)" text-anchor="end" font-size="8.5" fill="#2b2b2b">10<tspan dy="-3.2" font-size="5.8">–5</tspan></text>
<text transform="translate(339.1 429.9) scale(0.88 1)" text-anchor="middle" font-size="8.5" fill="#2b2b2b">10<tspan dy="-3.2" font-size="5.8">–5</tspan></text>
<text transform="translate(376.3 429.9) scale(0.88 1)" text-anchor="middle" font-size="8.5" fill="#2b2b2b">10<tspan dy="-3.2" font-size="5.8">–4</tspan></text>
<text transform="translate(413.5 429.9) scale(0.88 1)" text-anchor="middle" font-size="8.5" fill="#2b2b2b">10<tspan dy="-3.2" font-size="5.8">–3</tspan></text>
<text transform="translate(450.7 429.9) scale(0.88 1)" text-anchor="middle" font-size="8.5" fill="#2b2b2b">10<tspan dy="-3.2" font-size="5.8">–2</tspan></text>
<text transform="translate(487.9 429.9) scale(0.88 1)" text-anchor="middle" font-size="8.5" fill="#2b2b2b">10<tspan dy="-3.2" font-size="5.8">–1</tspan></text>
<rect x="316.5" y="243.6" width="202.6" height="173.7" fill="none" stroke="#231f20" stroke-width="1.25"/>
<text transform="translate(288 330.75) rotate(-90)" x="0" y="0" text-anchor="middle" font-size="8.6" fill="#2b2b2b" textLength="73.7" lengthAdjust="spacingAndGlyphs">MRD frequency: NGS</text>
<text x="418.6" y="444.9" text-anchor="middle" font-size="9.2" fill="#2b2b2b" textLength="81.7" lengthAdjust="spacingAndGlyphs">MRD frequency: ddPCR</text>
<text x="486.1" y="315.1" font-size="8.700000000000001" fill="#2b2b2b">ID</text>
<rect x="486.3" y="322.2" width="4" height="4" fill="#c0203a"/>
<text x="494" y="327.05" font-size="8.4" fill="#2b2b2b">4</text>
<rect x="486.3" y="334.7" width="4" height="4" fill="#4aa04a"/>
<text x="494" y="339.55" font-size="8.4" fill="#2b2b2b">1559</text>
<rect x="486.3" y="347" width="4" height="4" fill="#1f4a8a"/>
<text x="494" y="351.85" font-size="8.4" fill="#2b2b2b">1686</text>
<text x="424.3" y="404.8" font-size="8.2" fill="#2b2b2b" style="stroke-width:0.1px" textLength="71.4" lengthAdjust="spacing"><tspan font-style="italic">r</tspan> = 0.93 [0.88-0.96]</text>
<text transform="translate(0.8 470.5) scale(0.95 1)" font-size="11.5" font-weight="bold" fill="#0d0d0d">E</text>
<line x1="108.6" y1="522.5" x2="183" y2="522.5" stroke="#222" stroke-width="1.15" stroke-linecap="butt"/>
<text x="145.6" y="533.4" text-anchor="middle" font-size="8.7" fill="#2b2b2b">27μg</text>
<line x1="85.6" y1="588.3" x2="221.5" y2="541.7" stroke="#9a5c30" stroke-width="0.95" stroke-dasharray="1.2 1.1" stroke-linecap="butt"/>
<line x1="86.1" y1="619.4" x2="221.5" y2="573.4" stroke="#9a5c30" stroke-width="0.95" stroke-dasharray="1.2 1.1" stroke-linecap="butt"/>
<line x1="108.1" y1="559.4" x2="108.1" y2="573.2" stroke="#4f6a55" stroke-width="1.0"/>
<line x1="108.1" y1="599.7" x2="108.1" y2="623.1" stroke="#4a4f4a" stroke-width="1.0"/>
<rect x="105.4" y="573.2" width="5.4" height="26.5" fill="#c6b9e0" stroke="#23262f" stroke-width="1.1"/>
<line x1="105.4" y1="593.6" x2="110.8" y2="593.6" stroke="#23262f" stroke-width="1.0" stroke-linecap="butt"/>
<line x1="154.1" y1="561.6" x2="154.1" y2="568.4" stroke="#4f6a55" stroke-width="1.0"/>
<line x1="154.1" y1="598" x2="154.1" y2="613.3" stroke="#4a4f4a" stroke-width="1.0"/>
<rect x="151.3" y="568.4" width="5.6" height="29.6" fill="#c6b9e0" stroke="#23262f" stroke-width="1.1"/>
<line x1="151.3" y1="583.5" x2="156.9" y2="583.5" stroke="#23262f" stroke-width="1.0" stroke-linecap="butt"/>
<line x1="183.2" y1="552.6" x2="183.2" y2="558.1" stroke="#4f6a55" stroke-width="1.0"/>
<line x1="183.2" y1="572.1" x2="183.2" y2="584.1" stroke="#4a4f4a" stroke-width="1.0"/>
<rect x="180.6" y="558.1" width="5.1" height="14" fill="#c0b6da" stroke="#23262f" stroke-width="1.1"/>
<line x1="180.6" y1="566" x2="185.7" y2="566" stroke="#23262f" stroke-width="1.0" stroke-linecap="butt"/>
<line x1="180.6" y1="560.4" x2="185.7" y2="560.4" stroke="#3a3d4a" stroke-width="0.9" stroke-linecap="butt"/>
<line x1="180.6" y1="569.6" x2="185.7" y2="569.6" stroke="#3a3d4a" stroke-width="0.9" stroke-linecap="butt"/>
<line x1="86.7" y1="603.8" x2="220.4" y2="557.9" stroke="#1a1a1a" stroke-width="1.2" stroke-dasharray="3.2 2.2" stroke-linecap="butt"/>
<circle cx="108.1" cy="559.4" r="1.15" fill="#3f9a3f"/>
<circle cx="108.1" cy="566.5" r="1.15" fill="#3f9a3f"/>
<circle cx="108.4" cy="587.5" r="1.15" fill="#1f5a48"/>
<circle cx="108.4" cy="596" r="1.15" fill="#1f5a48"/>
<circle cx="108.1" cy="598.6" r="1.15" fill="#3f9a3f"/>
<circle cx="108.1" cy="623.1" r="1.15" fill="#3f9a3f"/>
<circle cx="154.1" cy="561.6" r="1.15" fill="#3f9a3f"/>
<circle cx="154.1" cy="564" r="1.15" fill="#3f9a3f"/>
<circle cx="154.4" cy="584.5" r="1.15" fill="#1f5a48"/>
<circle cx="154.4" cy="589" r="1.15" fill="#1f5a48"/>
<circle cx="154.1" cy="598.5" r="1.15" fill="#1f5a48"/>
<circle cx="154.1" cy="613.3" r="1.15" fill="#3f9a3f"/>
<circle cx="183.2" cy="552.6" r="1.15" fill="#3f9a3f"/>
<circle cx="183.2" cy="555.5" r="1.15" fill="#3f9a3f"/>
<circle cx="183.5" cy="567.5" r="1.15" fill="#1f5a48"/>
<circle cx="183.5" cy="571" r="1.15" fill="#1f5a48"/>
<circle cx="183.2" cy="584.1" r="1.15" fill="#1f5a48"/>
<path d="M46.5 654.24H48.1M46.5 652.02H48.1M46.5 650.11H48.1M46.5 648.41H48.1M45.1 646.9H48.1M46.5 636.94H48.1M46.5 631.12H48.1M46.5 626.98H48.1M46.5 623.78H48.1M46.5 621.16H48.1M46.5 618.94H48.1M46.5 617.03H48.1M46.5 615.33H48.1M45.1 613.82H48.1M46.5 603.86H48.1M46.5 598.04H48.1M46.5 593.9H48.1M46.5 590.7H48.1M46.5 588.08H48.1M46.5 585.86H48.1M46.5 583.95H48.1M46.5 582.25H48.1M45.1 580.74H48.1M46.5 570.78H48.1M46.5 564.96H48.1M46.5 560.82H48.1M46.5 557.62H48.1M46.5 555H48.1M46.5 552.78H48.1M46.5 550.87H48.1M46.5 549.17H48.1M45.1 547.66H48.1M46.5 537.7H48.1M46.5 531.88H48.1M46.5 527.74H48.1M46.5 524.54H48.1M46.5 521.92H48.1M46.5 519.7H48.1M46.5 517.79H48.1M46.5 516.09H48.1M45.1 514.58H48.1M46.5 504.62H48.1M46.5 498.8H48.1M46.5 494.66H48.1M46.5 491.46H48.1M46.5 488.84H48.1M46.5 486.62H48.1M46.5 484.71H48.1M46.5 483.01H48.1M45.1 481.5H48.1M48.35 655V656.6M53.28 655V656.6M57.7 655V658M86.75 655V656.6M103.74 655V656.6M115.8 655V656.6M125.15 655V656.6M132.79 655V656.6M139.25 655V656.6M144.85 655V656.6M149.78 655V656.6M154.2 655V658M183.25 655V656.6M200.24 655V656.6M212.3 655V656.6M221.65 655V656.6M229.29 655V656.6M235.75 655V656.6M241.35 655V656.6M246.28 655V656.6" stroke="#231f20" stroke-width="0.85" fill="none"/>
<text transform="translate(40.9 484.1) scale(0.88 1)" text-anchor="end" font-size="8.5" fill="#2b2b2b">10<tspan dy="-3.2" font-size="5.8">–3</tspan></text>
<text transform="translate(40.9 517.18) scale(0.88 1)" text-anchor="end" font-size="8.5" fill="#2b2b2b">10<tspan dy="-3.2" font-size="5.8">–4</tspan></text>
<text transform="translate(40.9 550.26) scale(0.88 1)" text-anchor="end" font-size="8.5" fill="#2b2b2b">10<tspan dy="-3.2" font-size="5.8">–5</tspan></text>
<text transform="translate(40.9 583.34) scale(0.88 1)" text-anchor="end" font-size="8.5" fill="#2b2b2b">10<tspan dy="-3.2" font-size="5.8">–6</tspan></text>
<text transform="translate(40.9 616.42) scale(0.88 1)" text-anchor="end" font-size="8.5" fill="#2b2b2b">10<tspan dy="-3.2" font-size="5.8">–7</tspan></text>
<text transform="translate(40.9 649.5) scale(0.88 1)" text-anchor="end" font-size="8.5" fill="#2b2b2b">10<tspan dy="-3.2" font-size="5.8">–8</tspan></text>
<text transform="translate(58 668.5) scale(0.88 1)" text-anchor="middle" font-size="8.5" fill="#2b2b2b">10<tspan dy="-3.2" font-size="5.8">–7</tspan></text>
<text transform="translate(104 668.5) scale(0.88 1)" text-anchor="middle" font-size="8.5" fill="#2b2b2b">10<tspan dy="-3.2" font-size="5.8">–6.5</tspan></text>
<text transform="translate(154.5 668.5) scale(0.88 1)" text-anchor="middle" font-size="8.5" fill="#2b2b2b">10<tspan dy="-3.2" font-size="5.8">–6</tspan></text>
<text transform="translate(200.8 668.5) scale(0.88 1)" text-anchor="middle" font-size="8.5" fill="#2b2b2b">10<tspan dy="-3.2" font-size="5.8">–5.5</tspan></text>
<rect x="48.1" y="476.9" width="202.5" height="178.1" fill="none" stroke="#231f20" stroke-width="1.25"/>
<text transform="translate(19.8 568.7) rotate(-90)" x="0" y="0" text-anchor="middle" font-size="8.6" fill="#2b2b2b" textLength="89.3" lengthAdjust="spacingAndGlyphs">Observed MRD frequency</text>
<text x="150.45" y="681.9" text-anchor="middle" font-size="9.2" fill="#2b2b2b" textLength="87.5" lengthAdjust="spacingAndGlyphs">Expected MRD frequency</text>
<text x="218.3" y="616.6" font-size="8.700000000000001" fill="#2b2b2b">ID</text>
<rect x="218.5" y="623.4" width="4" height="4" fill="#3f9a3f"/>
<text x="226.5" y="628.25" font-size="8.4" fill="#2b2b2b">112</text>
<rect x="218.5" y="635.5" width="4" height="4" fill="#1f5a48"/>
<text x="226.5" y="640.35" font-size="8.4" fill="#2b2b2b">1686</text>
</svg></body></html>
